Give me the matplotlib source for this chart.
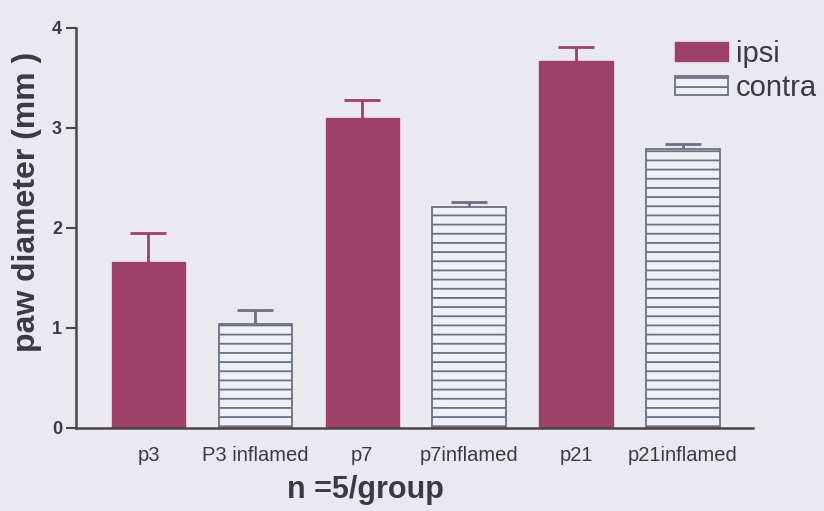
import matplotlib
matplotlib.use("Agg")
import matplotlib.pyplot as plt
import numpy as np

categories = ["p3", "P3 inflamed", "p7", "p7inflamed", "p21", "p21inflamed"]
groups = ["ipsi", "contra", "ipsi", "contra", "ipsi", "contra"]
values = [1.66, 1.04, 3.10, 2.21, 3.67, 2.79]
errors = [0.29, 0.14, 0.18, 0.05, 0.145, 0.05]
yticks = [0, 1, 2, 3, 4]

bg = "#eae9ef"
ipsi_col = "#9e4169"
grey = "#6c7080"
contra_face = "#eef0f8"
spine_col = "#4d4446"
text_col = "#3a3a40"

DPI = 110
s = 100 / DPI  # keep pixel sizes as at 100 dpi

plt.rcParams['font.family'] = ['Liberation Sans', 'DejaVu Sans']
plt.rcParams['hatch.color'] = grey
plt.rcParams['hatch.linewidth'] = 1.3 * s

fig = plt.figure(figsize=(824 / DPI, 511 / DPI), dpi=DPI, facecolor=bg)
ax = fig.add_axes([76/824, 1-428/511, (753-76)/824, 400/511], facecolor=bg)

x = np.arange(len(categories))
w = 0.687
handles = {}
for xi, v, e, g in zip(x, values, errors, groups):
    if g == "ipsi":
        b = ax.bar(xi, v, width=w, color=ipsi_col, edgecolor=ipsi_col, linewidth=1 * s, zorder=2)
        ecol = ipsi_col
    else:
        b = ax.bar(xi, v, width=w, color=contra_face, edgecolor=grey, hatch="--",
                   linewidth=1.3 * s, zorder=2)
        ecol = grey
    handles.setdefault(g, b)
    eb = ax.errorbar(xi, v, yerr=[[0], [e]], fmt="none", ecolor=ecol, elinewidth=2 * s,
                     capsize=13 * s, capthick=2 * s, zorder=1)
    for cap in eb[1]:
        if np.isclose(cap.get_ydata()[0], v):
            cap.set_visible(False)

ax.set_xlim(-0.678, 5.655)
ax.set_ylim(0, 4)
ax.set_yticks(yticks)
ax.set_yticklabels([str(t) for t in yticks], fontsize=13 * s, fontweight="bold", color=text_col)
ax.set_xticks(x)
ax.set_xticklabels(categories, fontsize=14.5 * s, color=text_col)
ax.tick_params(axis="x", length=0, pad=13 * s)
ax.tick_params(axis="y", length=7 * s, width=1.5 * s, color=spine_col, pad=3 * s)
for sp in ["top", "right"]:
    ax.spines[sp].set_visible(False)
for sp in ["left", "bottom"]:
    ax.spines[sp].set_color(spine_col)
    ax.spines[sp].set_linewidth(1.8 * s)

fig.text(27/824, 1-202/511, "paw diameter (mm )", rotation=90, ha="center", va="center",
         fontsize=23 * s, fontweight="bold", color=text_col)
fig.text(365/824, 1-490/511, "n =5/group", ha="center", va="center",
         fontsize=22 * s, fontweight="bold", color=text_col)

leg = fig.legend([handles["ipsi"], handles["contra"]], ["ipsi", "contra"],
                 loc="upper left", bbox_to_anchor=(675/824, 1-40/511),
                 frameon=False, fontsize=21 * s, handlelength=1.8, handleheight=0.65,
                 handletextpad=0.28, labelspacing=0.2, borderaxespad=0, borderpad=0)
for t in leg.get_texts():
    t.set_color(text_col)

fig.savefig("out.png", dpi=DPI, facecolor=bg)
